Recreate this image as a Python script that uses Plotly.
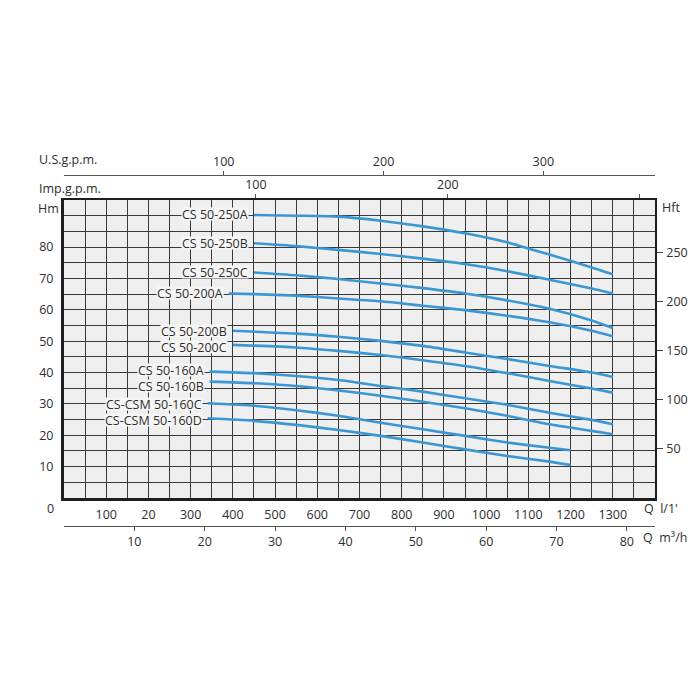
import plotly.graph_objects as go

# ---------------- data ----------------
q_250A = [450, 550, 650, 750, 850, 950, 1050, 1150, 1250, 1300]
h_250A = [90.2, 90.0, 89.7, 88.4, 86.6, 84.4, 81.5, 77.6, 73.5, 71.3]

q_250B = [450, 550, 650, 750, 850, 950, 1050, 1150, 1250, 1300]
h_250B = [81.2, 80.3, 79.1, 77.8, 76.3, 74.6, 72.3, 69.6, 66.8, 65.2]

q_250C = [450, 550, 650, 750, 850, 950, 1050, 1150, 1250, 1300]
h_250C = [71.9, 71.0, 69.8, 68.4, 66.9, 65.2, 63.0, 60.3, 56.6, 54.2]

q_200A = [390, 450, 550, 650, 750, 850, 950, 1050, 1150, 1250, 1300]
h_200A = [65.2, 65.0, 64.5, 63.6, 62.7, 61.3, 59.9, 58.1, 56.0, 53.3, 51.6]

q_200B = [400, 550, 650, 750, 850, 950, 1050, 1150, 1250, 1300]
h_200B = [53.3, 52.4, 51.4, 50.1, 48.5, 46.4, 44.3, 42.1, 40.0, 38.6]

q_200C = [400, 550, 650, 750, 850, 950, 1050, 1150, 1250, 1300]
h_200C = [48.8, 48.0, 46.9, 45.6, 43.9, 42.1, 39.8, 37.3, 34.9, 33.6]

q_160A = [345, 450, 550, 650, 750, 850, 950, 1050, 1150, 1250, 1300]
h_160A = [40.3, 39.8, 38.9, 37.6, 35.7, 33.9, 31.8, 29.7, 27.2, 24.9, 23.5]

q_160B = [345, 450, 550, 650, 750, 850, 950, 1050, 1150, 1250, 1300]
h_160B = [37.1, 36.6, 35.7, 34.3, 32.6, 30.7, 28.6, 26.2, 23.5, 21.4, 20.3]

q_160C = [340, 450, 550, 650, 750, 850, 950, 1050, 1150, 1200]
h_160C = [30.2, 29.4, 28.0, 26.2, 24.0, 21.9, 19.8, 17.7, 16.0, 15.2]

q_160D = [340, 450, 550, 650, 750, 850, 950, 1050, 1150, 1200]
h_160D = [25.4, 24.6, 23.3, 21.7, 19.8, 17.7, 15.5, 13.4, 11.6, 10.5]

curve_names = ["CS 50-250A", "CS 50-250B", "CS 50-250C", "CS 50-200A",
               "CS 50-200B", "CS 50-200C", "CS 50-160A", "CS 50-160B",
               "CS-CSM 50-160C", "CS-CSM 50-160D"]
curve_q = [q_250A, q_250B, q_250C, q_200A, q_200B, q_200C, q_160A, q_160B, q_160C, q_160D]
curve_h = [h_250A, h_250B, h_250C, h_200A, h_200B, h_200C, h_160A, h_160B, h_160C, h_160D]

# axis ticks
lmin_grid = list(range(50, 1400, 50))
lmin_labels = {100: "100", 200: "20", 300: "300", 400: "400", 500: "500", 600: "600",
               700: "700", 800: "800", 900: "900", 1000: "1000", 1100: "1100",
               1200: "1200", 1300: "1300"}
hm_grid = list(range(5, 95, 5))
hm_labels = {10: "10", 20: "20", 30: "30", 40: "40", 50: "50", 60: "60", 70: "70", 80: "80"}
m3h_ticks = [10, 20, 30, 40, 50, 60, 70, 80]
usgpm_ticks = [100, 200, 300]
impgpm_ticks = [100, 200, 300]
impgpm_text = ["100", "200", ""]
hft_ticks = [50, 100, 150, 200, 250]

Q_MAX = 1400
H_MAX = 95
HFT_MAX = 304

# label vertical nudges (px) so stacked labels do not collide, as in the original
label_yshift = [1, 0, 0, 0, 0, -2, 2, -4, -1, -2]

# ---------------- figure ----------------
# the page body has an 8px margin, so figure coords = screen coords - 8
OFF = 8
W, H = 692, 692
ML, MR, MT, MB = 64 - OFF, 45, 175 - OFF, 174
PW = W - ML - MR
PH = H - MT - MB


def px_x(x):
    return (x - OFF - ML) / PW


def px_y(y):
    return (H - MB - (y - OFF)) / PH


dom_bottom = px_y(498)
dom_top = px_y(200)

FONT = "Open Sans"
TXT = "#2e2e2e"
GRID = "#3a3a3a"
BLUE = "#3a97d4"

fig = go.Figure()

for name, q, h in zip(curve_names, curve_q, curve_h):
    fig.add_trace(go.Scatter(x=q, y=h, mode="lines", name=name,
                             line=dict(color=BLUE, width=2.6, shape="spline", smoothing=0.6),
                             showlegend=False, hoverinfo="skip"))

# dummy traces so the extra axes are drawn
for xa, ya in [("x2", "y"), ("x3", "y"), ("x4", "y"), ("x", "y2")]:
    fig.add_trace(go.Scatter(x=[None], y=[None], xaxis=xa, yaxis=ya, mode="markers",
                             showlegend=False, hoverinfo="skip"))

tick_font = dict(family=FONT, size=12.5, color=TXT)

fig.update_layout(
    width=W, height=H,
    margin=dict(l=ML, r=MR, t=MT, b=MB, pad=0, autoexpand=False),
    paper_bgcolor="white",
    plot_bgcolor="#efefef",
    showlegend=False,
    xaxis=dict(
        range=[0, Q_MAX], tickmode="array", tickvals=lmin_grid,
        ticktext=[lmin_labels.get(v, "") for v in lmin_grid],
        showgrid=True, gridcolor=GRID, gridwidth=1.1, zeroline=False,
        showline=True, linecolor="#1e1e1e", linewidth=3, ticks="",
        tickfont=tick_font, anchor="y", ticklabelstandoff=3,
    ),
    yaxis=dict(
        range=[0, H_MAX], domain=[dom_bottom, dom_top], tickmode="array", tickvals=hm_grid,
        ticktext=[hm_labels.get(v, "") for v in hm_grid],
        showgrid=True, gridcolor=GRID, gridwidth=1.1, zeroline=False,
        showline=True, linecolor="#1e1e1e", linewidth=3, ticks="",
        tickfont=tick_font, anchor="x", ticklabelstandoff=5,
    ),
    xaxis2=dict(
        overlaying="x", anchor="free", position=0, side="bottom",
        range=[0, Q_MAX * 0.06], tickmode="array", tickvals=m3h_ticks,
        ticktext=[str(v) for v in m3h_ticks],
        showgrid=False, zeroline=False, showline=True, linecolor="#555555", linewidth=1.2,
        ticks="outside", ticklen=4, tickcolor="#555555", tickfont=tick_font,
    ),
    xaxis3=dict(
        overlaying="x", anchor="y", side="top",
        range=[0, Q_MAX / 4.546], tickmode="array", tickvals=impgpm_ticks, ticktext=impgpm_text,
        showgrid=False, zeroline=False, showline=True, linecolor="#1e1e1e", linewidth=1.6,
        ticks="outside", ticklen=4, tickcolor="#555555", tickfont=tick_font,
    ),
    xaxis4=dict(
        overlaying="x", anchor="free", position=1, side="top",
        range=[0, Q_MAX / 3.785], tickmode="array", tickvals=usgpm_ticks,
        ticktext=[str(v) for v in usgpm_ticks],
        showgrid=False, zeroline=False, showline=True, linecolor="#555555", linewidth=1.2,
        ticks="outside", ticklen=4, tickcolor="#555555", tickfont=tick_font,
    ),
    yaxis2=dict(
        overlaying="y", anchor="x", side="right",
        range=[0, HFT_MAX], tickmode="array", tickvals=hft_ticks,
        ticktext=[str(v) for v in hft_ticks],
        showgrid=False, zeroline=False, showline=True, linecolor="#1e1e1e", linewidth=1.6,
        ticks="outside", ticklen=6, tickcolor="#444444", tickfont=tick_font,
        ticklabelstandoff=1,
    ),
)

# curve labels
for name, q, h, ys in zip(curve_names, curve_q, curve_h, label_yshift):
    fig.add_annotation(x=q[0], y=h[0], xref="x", yref="y", text=name, showarrow=False,
                       xanchor="right", yanchor="middle", xshift=-5, yshift=ys,
                       font=dict(family=FONT, size=12.5, color=TXT),
                       bgcolor="#f5f5f5", borderpad=0, height=12)

# axis titles / unit labels
texts = [
    ("U.S.g.p.m.", 37, 160, "left"),
    ("Imp.g.p.m.", 37, 188, "left"),
    ("Hm", 36, 208, "left"),
    ("Hft", 660, 207, "left"),
    ("0", 50, 508, "center"),
    ("Q  l/1'", 642, 508, "left"),
    ("Q  m³/h", 641, 537, "left"),
]
for t, x, y, anc in texts:
    fig.add_annotation(x=px_x(x), y=px_y(y), xref="paper", yref="paper", text=t,
                       showarrow=False, xanchor=anc, yanchor="middle",
                       font=dict(family=FONT, size=12.5, color=TXT))

fig.write_html("out.html")
